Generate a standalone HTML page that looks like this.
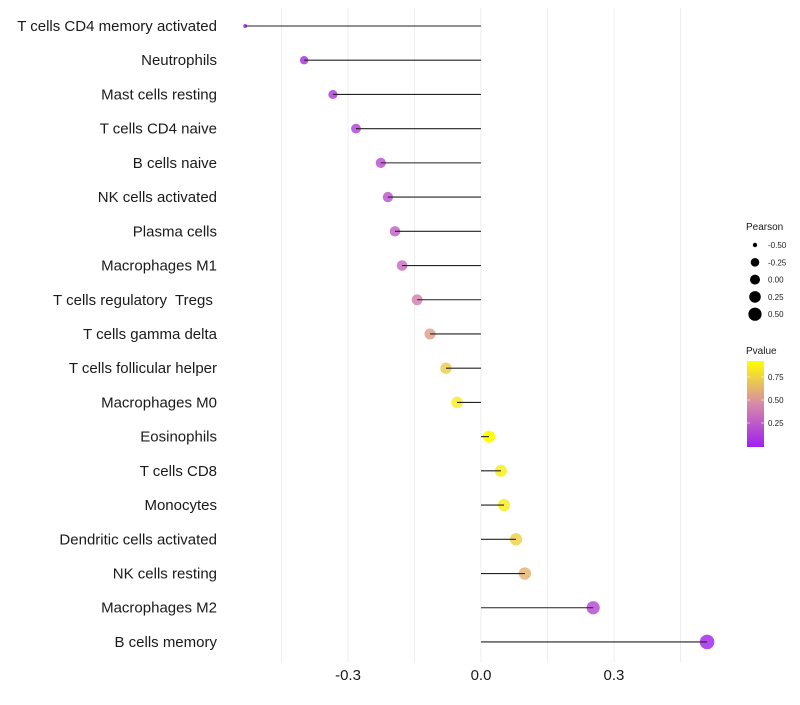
<!DOCTYPE html>
<html><head><meta charset="utf-8"><style>
body{margin:0;background:#fff;font-family:"Liberation Sans",sans-serif}
</style></head><body>
<svg id="c" width="800" height="700" xmlns="http://www.w3.org/2000/svg"></svg>
<script>
const categories=["T cells CD4 memory activated","Neutrophils","Mast cells resting","T cells CD4 naive","B cells naive","NK cells activated","Plasma cells","Macrophages M1","T cells regulatory  Tregs ","T cells gamma delta","T cells follicular helper","Macrophages M0","Eosinophils","T cells CD8","Monocytes","Dendritic cells activated","NK cells resting","Macrophages M2","B cells memory"];
const pearson=[-0.532,-0.399,-0.334,-0.282,-0.226,-0.210,-0.194,-0.178,-0.144,-0.115,-0.079,-0.054,0.018,0.045,0.052,0.079,0.099,0.253,0.510];
const pvalues=[0.01,0.06,0.1,0.14,0.2,0.22,0.27,0.33,0.42,0.55,0.72,0.85,0.93,0.86,0.86,0.74,0.62,0.17,0.02];
const xTicks=[-0.3,0,0.3];
const xTickLabels=["-0.3","0.0","0.3"];
const gridVals=[-0.45,-0.3,-0.15,0,0.15,0.3,0.45];
const sizeLegend=[-0.5,-0.25,0,0.25,0.5];
const sizeLegendLabels=["-0.50","-0.25","0.00","0.25","0.50"];
const pLegend=[0.25,0.5,0.75];
const pLegendLabels=["0.25","0.50","0.75"];

const NS="http://www.w3.org/2000/svg",svg=document.getElementById('c');
const x=v=>481+v*443.3;
const y=i=>26+i*34.22;
const rk=[[-0.55,1.6],[-0.53,2.0],[-0.4,4.2],[-0.28,4.9],[-0.1,5.6],[0.02,6.0],[0.25,6.6],[0.55,7.4]];
function r(v){for(let i=0;i<rk.length-1;i++){if(v<=rk[i+1][0]){const t=(v-rk[i][0])/(rk[i+1][0]-rk[i][0]);return rk[i][1]+t*(rk[i+1][1]-rk[i][1]);}}return 7.4;}
const lr=[[-0.5,2.2],[-0.25,4.3],[0,5],[0.25,5.8],[0.5,6.6]];
function lerp(a,b,t){return a.map((c,i)=>Math.round(c+(b[i]-c)*t));}
const stops=[[0,[160,32,240]],[0.5,[214,138,168]],[1,[255,255,0]]];
function col(p){p=Math.max(0,Math.min(1,p/0.93));let k=p<0.5?0:1;let t=(p-stops[k][0])/0.5;const c=lerp(stops[k][1],stops[k+1][1],t);return `rgb(${c})`;}
function el(t,a,txt){const e=document.createElementNS(NS,t);for(const k in a)e.setAttribute(k,a[k]);if(txt!==undefined)e.textContent=txt;svg.appendChild(e);return e;}
gridVals.forEach(g=>{const e=el('line',{x1:x(g),x2:x(g),y1:8,y2:662,stroke:'#ededed','stroke-width':1});

});
categories.forEach((c,i)=>{
const t=el('text',{x:217,y:y(i)+5,'text-anchor':'end','font-size':15,fill:'#1a1a1a',style:'white-space:pre'},c);


const p=el('circle',{cx:x(pearson[i]),cy:y(i),r:r(pearson[i]),fill:col(pvalues[i]),'fill-opacity':pvalues[i]>0.9?1:0.82});


const l=el('line',{x1:x(0),x2:x(pearson[i]),y1:y(i),y2:y(i),stroke:'#222','stroke-width':1.1});


});
xTicks.forEach((v,i)=>{const t=el('text',{x:x(v),y:680,'text-anchor':'middle','font-size':15,fill:'#1a1a1a'},xTickLabels[i]);

});
let t=el('text',{x:746,y:230,'font-size':10,fill:'#1a1a1a'},'Pearson');


sizeLegend.forEach((v,i)=>{const cy=245+i*17.3;
const c=el('circle',{cx:755,cy:cy,r:lr[i][1],fill:'#000'});


const tt=el('text',{x:768,y:cy+3,'font-size':8,fill:'#1a1a1a'},sizeLegendLabels[i]);

});
t=el('text',{x:746,y:354,'font-size':10,fill:'#1a1a1a'},'Pvalue');


const defs=el('defs',{});
const g=document.createElementNS(NS,'linearGradient');g.setAttribute('id','pg');g.setAttribute('x1','0');g.setAttribute('y1','1');g.setAttribute('x2','0');g.setAttribute('y2','0');
[[0,'rgb(160,32,240)'],[0.5,'rgb(214,138,168)'],[1,'rgb(255,255,0)']].forEach(s=>{const st=document.createElementNS(NS,'stop');st.setAttribute('offset',s[0]);st.setAttribute('stop-color',s[1]);g.appendChild(st);});
defs.appendChild(g);
const ycb=p=>446-p*92;
const bar=el('rect',{x:747,y:361,width:17,height:86,fill:'url(#pg)'});


pLegend.forEach((v,i)=>{
el('line',{x1:747,x2:750,y1:ycb(v),y2:ycb(v),stroke:'#fff','stroke-width':0.6});
el('line',{x1:761,x2:764,y1:ycb(v),y2:ycb(v),stroke:'#fff','stroke-width':0.6});
const tt=el('text',{x:768,y:ycb(v)+3,'font-size':8,fill:'#1a1a1a'},pLegendLabels[i]);

});
</script>
</body></html>
